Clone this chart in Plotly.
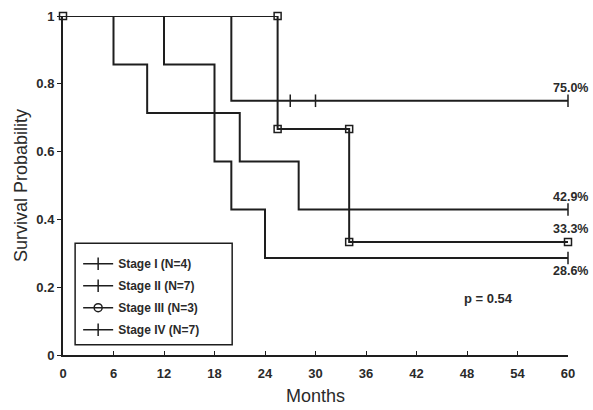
import plotly.graph_objects as go

# ---- data ----
stage_names = ["Stage I (N=4)", "Stage II (N=7)", "Stage III (N=3)", "Stage IV (N=7)"]
stage1_t = [0, 20, 60]
stage1_s = [1.0, 0.75, 0.75]
stage1_cens_t = [27, 30, 60]
stage1_cens_s = [0.75, 0.75, 0.75]

stage2_t = [0, 6, 10, 21, 28, 60]
stage2_s = [1.0, 0.857, 0.714, 0.571, 0.429, 0.429]
stage2_cens_t = [60]
stage2_cens_s = [0.429]

stage3_t = [0, 25.5, 34, 60]
stage3_s = [1.0, 0.667, 0.333, 0.333]

stage4_t = [0, 12, 18, 20, 24, 60]
stage4_s = [1.0, 0.857, 0.571, 0.429, 0.286, 0.286]
stage4_cens_t = [60]
stage4_cens_s = [0.286]

final_labels = ["75.0%", "42.9%", "33.3%", "28.6%"]
final_values = [0.75, 0.429, 0.333, 0.286]
p_text = "p = 0.54"

x_ticks = [0, 6, 12, 18, 24, 30, 36, 42, 48, 54, 60]
y_ticks = [0, 0.2, 0.4, 0.6, 0.8, 1.0]
y_ticktext = ["0", "0.2", "0.4", "0.6", "0.8", "1"]

INK = "#1e1e1e"
TXT = "#2a2a2a"
FONT = "Liberation Sans, Arial, sans-serif"

fig = go.Figure()

def step_line(t, s):
    fig.add_trace(go.Scatter(x=t, y=s, mode="lines", line=dict(shape="hv", color=INK, width=2),
                             showlegend=False, hoverinfo="skip", cliponaxis=False))

for t, s in [(stage1_t, stage1_s), (stage2_t, stage2_s), (stage3_t, stage3_s), (stage4_t, stage4_s)]:
    step_line(t, s)

# censor ticks
for ct, cs in [(stage1_cens_t, stage1_cens_s), (stage2_cens_t, stage2_cens_s), (stage4_cens_t, stage4_cens_s)]:
    fig.add_trace(go.Scatter(x=ct, y=cs, mode="markers", cliponaxis=False,
                             marker=dict(symbol="line-ns", size=9, color=INK, line=dict(color=INK, width=1.5)),
                             showlegend=False, hoverinfo="skip"))

# stage III squares at step corners
sq_x, sq_y = [], []
for i in range(len(stage3_t)):
    sq_x.append(stage3_t[i]); sq_y.append(stage3_s[i - 1] if i > 0 else stage3_s[0])
    if i > 0 and stage3_s[i] != stage3_s[i - 1]:
        sq_x.append(stage3_t[i]); sq_y.append(stage3_s[i])
fig.add_trace(go.Scatter(x=sq_x, y=sq_y, mode="markers", cliponaxis=False,
                         marker=dict(symbol="square-open", size=7, color=INK, line=dict(color=INK, width=1.5)),
                         showlegend=False, hoverinfo="skip"))

# legend entries
for i, name in enumerate(stage_names):
    sym = "circle-open" if i == 2 else "line-ns"
    fig.add_trace(go.Scatter(x=[None], y=[None], mode="lines+markers", name=name, legendgroup=f"g{i}",
                             line=dict(color=INK, width=1.5),
                             marker=dict(symbol=sym, size=8 if i == 2 else 9, color=INK,
                                         line=dict(color=INK, width=1.5))))

# legend frame
fig.add_shape(type="rect", xref="paper", yref="paper", x0=0.024, x1=0.335, y0=0.03, y1=0.33,
              line=dict(color=INK, width=1.5), fillcolor="rgba(0,0,0,0)", layer="above")

# end labels
offsets = [13, 13, 13, -13]
for lab, v, off in zip(final_labels, final_values, offsets):
    fig.add_annotation(x=1.043, y=v, xref="paper", yref="y", text=lab, showarrow=False,
                       xanchor="right", yanchor="middle", yshift=off,
                       font=dict(family=FONT, size=12.5, color=TXT, weight="bold"))

fig.add_annotation(x=0.895, y=0.14, xref="paper", yref="paper", text=p_text,
                   showarrow=False, font=dict(family=FONT, size=13, color=TXT, weight="bold"))

fig.update_layout(
    width=593, height=410,
    margin=dict(l=63, r=25, t=16, b=55),
    paper_bgcolor="white", plot_bgcolor="white",
    font=dict(family=FONT, size=12, color=TXT),
    legend=dict(x=0.03, y=0.312, xanchor="left", yanchor="top",
                borderwidth=0, bgcolor="rgba(0,0,0,0)",
                font=dict(family=FONT, size=12, color=TXT, weight="bold"),
                tracegroupgap=3, itemwidth=30),
    xaxis=dict(range=[0, 60], tickvals=x_ticks, ticks="inside", ticklen=4, tickcolor=INK,
               showline=True, linecolor=INK, linewidth=2, showgrid=False, zeroline=False,
               automargin=False, ticklabelstandoff=5,
               title=dict(text="Months", font=dict(size=18), standoff=10),
               tickfont=dict(size=13, weight="bold")),
    yaxis=dict(range=[0, 1], tickvals=y_ticks, ticktext=y_ticktext, ticks="outside", ticklen=4,
               tickcolor=INK, showline=True, linecolor=INK, linewidth=2, showgrid=False, zeroline=False,
               automargin=False,
               title=dict(text="Survival Probability", font=dict(size=18), standoff=4),
               tickfont=dict(size=13, weight="bold")),
)

fig.write_html("out.html", config={"displayModeBar": False},
               post_script="document.body.style.margin='0';document.body.style.overflow='hidden';")
